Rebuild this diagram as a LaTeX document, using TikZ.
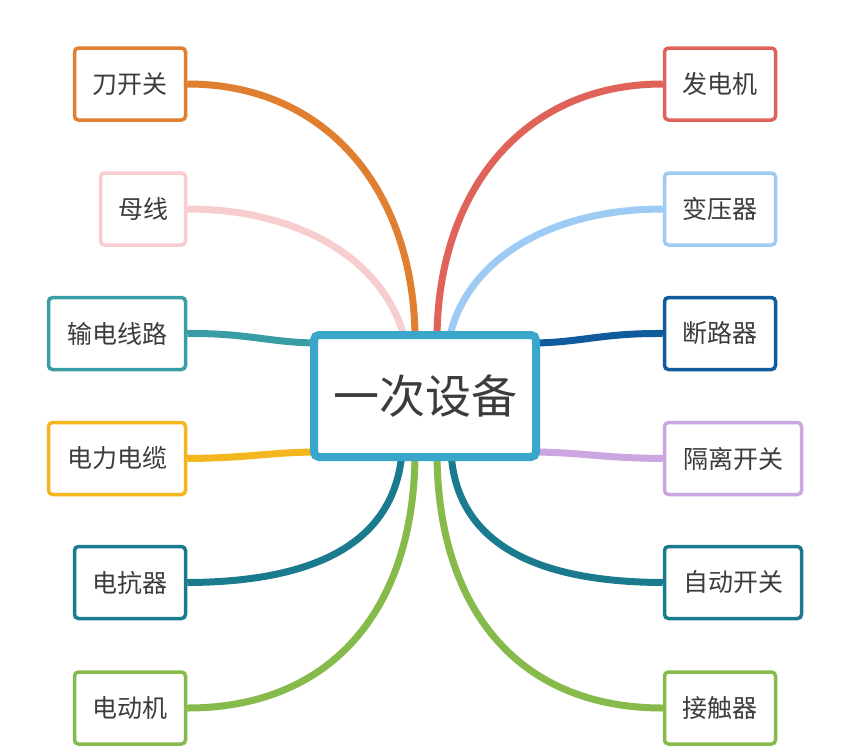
\documentclass[tikz,border=0pt]{standalone}
\usepackage{fontspec}
\newfontfamily\cjk{Noto Sans CJK SC}
\usetikzlibrary{backgrounds}
\definecolor{cOrange}{HTML}{E07F30}
\definecolor{cPink}{HTML}{F7CDD0}
\definecolor{cTeal}{HTML}{3A9CA5}
\definecolor{cYellow}{HTML}{F4B61F}
\definecolor{cDTeal}{HTML}{1B7B8E}
\definecolor{cGreen}{HTML}{86BA4A}
\definecolor{cRed}{HTML}{E0635A}
\definecolor{cLBlue}{HTML}{9DCBF3}
\definecolor{cDBlue}{HTML}{0F5B9C}
\definecolor{cLav}{HTML}{CBA6E0}
\definecolor{cCenter}{HTML}{3AA6C9}
\definecolor{cText}{HTML}{3C3C3C}
\tikzset{
  leaf/.style={draw=#1, line width=3.5pt, rounded corners=4pt, fill=white, inner sep=0pt,
    minimum height=72pt, text=cText, font=\cjk\fontsize{25}{29}\selectfont},
  w3/.style={minimum width=111pt},
  w2/.style={minimum width=85pt},
  w4/.style={minimum width=137pt},
  link/.style={draw=#1, line width=7pt},
  hub/.style={draw=cCenter, line width=8pt, rounded corners=5pt, fill=white, inner sep=0pt,
    minimum width=222pt, minimum height=122pt, text=cText, font=\cjk\fontsize{46}{50}\selectfont}
}
\begin{document}
\begin{tikzpicture}[x=1pt,y=-1pt]
\useasboundingbox (0,0) rectangle (854,745);
\node[hub] (c) at (425,396) {一次设备};
% left
\node[leaf=cOrange,w3] (l1) at (130,84) {刀开关};
\node[leaf=cPink,w2] (l2) at (143,209) {母线};
\node[leaf=cTeal,w4] (l3) at (117,333.5) {输电线路};
\node[leaf=cYellow,w4] (l4) at (117,458.5) {电力电缆};
\node[leaf=cDTeal,w3] (l5) at (130,582.5) {电抗器};
\node[leaf=cGreen,w3] (l6) at (130,708) {电动机};
% right
\node[leaf=cRed,w3] (r1) at (720,84) {发电机};
\node[leaf=cLBlue,w3] (r2) at (720,209) {变压器};
\node[leaf=cDBlue,w3] (r3) at (720,333.5) {断路器};
\node[leaf=cLav,w4] (r4) at (733,458.5) {隔离开关};
\node[leaf=cDTeal,w4] (r5) at (733,582.5) {自动开关};
\node[leaf=cGreen,w3] (r6) at (720,708) {接触器};
% end points on the hub
\coordinate (t1) at (415,340);
\coordinate (t2) at (405,340);
\coordinate (t3) at (437,340);
\coordinate (t4) at (449,340);
\coordinate (s1) at (320,343);
\coordinate (s2) at (320,452);
\coordinate (s3) at (530,343);
\coordinate (s4) at (530,452);
\coordinate (b1) at (402,452);
\coordinate (b2) at (415,452);
\coordinate (b3) at (437,452);
\coordinate (b4) at (451,452);
\begin{scope}[on background layer]
\fill[white] (0,0) rectangle (854,745);
\draw[link=cOrange] (l1.east) .. controls (330,84) and (415,195) .. (t1);
\draw[link=cPink] (l2.east) .. controls (300,209) and (385,260) .. (t2);
\draw[link=cTeal] (l3.east) .. controls (250,333) and (270,343) .. (s1);
\draw[link=cYellow] (l4.east) .. controls (250,458) and (270,452) .. (s2);
\draw[link=cDTeal] (l5.east) .. controls (320,582) and (395,540) .. (b1);
\draw[link=cGreen] (l6.east) .. controls (335,708) and (415,605) .. (b2);
\draw[link=cRed] (r1.west) .. controls (520,84) and (437,195) .. (t3);
\draw[link=cLBlue] (r2.west) .. controls (550,209) and (465,260) .. (t4);
\draw[link=cDBlue] (r3.west) .. controls (600,333) and (580,343) .. (s3);
\draw[link=cLav] (r4.west) .. controls (600,458) and (580,452) .. (s4);
\draw[link=cDTeal] (r5.west) .. controls (530,582) and (456,540) .. (b4);
\draw[link=cGreen] (r6.west) .. controls (515,708) and (437,605) .. (b3);
\end{scope}
\end{tikzpicture}
\end{document}
